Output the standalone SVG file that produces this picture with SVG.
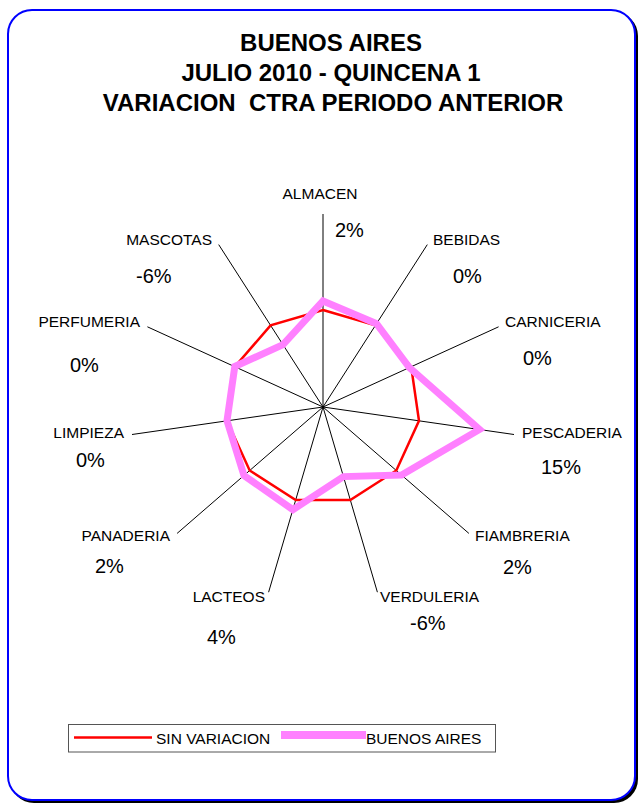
<svg xmlns="http://www.w3.org/2000/svg" width="642" height="805" viewBox="0 0 642 805">
<style>
.t{font-family:"Liberation Sans",Arial,sans-serif;font-weight:bold;font-size:24px;fill:#000;text-anchor:middle;white-space:pre}
.lb{font-family:"Liberation Sans",Arial,sans-serif;font-size:15.5px;fill:#000}
.pc{font-family:"Liberation Sans",Arial,sans-serif;font-size:20px;fill:#000}
.ax{stroke:#000;stroke-width:1;fill:none}
</style>
<rect x="10" y="12" width="628" height="791" rx="24" fill="#000"/>
<rect x="8" y="10" width="627" height="790" rx="24" fill="#fff" stroke="#0000ff" stroke-width="2"/>
<g id="title">
<text class="t" x="331" y="51">BUENOS AIRES</text>
<text class="t" x="331" y="81">JULIO 2010 - QUINCENA 1</text>
<text class="t" x="333" y="111" xml:space="preserve">VARIACION  CTRA PERIODO ANTERIOR</text>
</g>
<g id="axes" class="ax">
<line x1="323" y1="407" x2="323" y2="214"/>
<line x1="323" y1="407" x2="427.3" y2="244.6"/>
<line x1="323" y1="407" x2="498.6" y2="326.8"/>
<line x1="323" y1="407" x2="514" y2="434.5"/>
<line x1="323" y1="407" x2="468.9" y2="533.4"/>
<line x1="323" y1="407" x2="377.4" y2="592.2"/>
<line x1="323" y1="407" x2="268.6" y2="592.2"/>
<line x1="323" y1="407" x2="177.1" y2="533.4"/>
<line x1="323" y1="407" x2="132" y2="434.5"/>
<line x1="323" y1="407" x2="147.4" y2="326.8"/>
<line x1="323" y1="407" x2="218.7" y2="244.6"/>
</g>
<g id="series-sin-variacion">
<polygon points="323,310 375.4,325.4 411.2,366.7 419,420.8 396.3,470.5 350.3,500.1 295.7,500.1 249.7,470.5 227,420.8 234.8,366.7 270.6,325.4" fill="none" stroke="#ff0000" stroke-width="2.5"/>
</g>
<g id="series-buenos-aires">
<polygon points="323,301 376.5,323.7 409.4,367.5 479.5,429.5 401.6,475.1 343.4,476.6 292.9,509.7 244,475.5 227,420.8 234.8,366.5 283,344.7" fill="none" stroke="#ff80ff" stroke-width="7" stroke-linejoin="miter"/>
</g>
<g id="labels">
<g id="almacen"><text class="lb" x="320" y="199" text-anchor="middle">ALMACEN</text><text class="pc" x="335" y="237">2%</text></g>
<g id="bebidas"><text class="lb" x="433" y="245">BEBIDAS</text><text class="pc" x="453" y="283">0%</text></g>
<g id="carniceria"><text class="lb" x="505" y="327">CARNICERIA</text><text class="pc" x="523" y="365">0%</text></g>
<g id="pescaderia"><text class="lb" x="522" y="438">PESCADERIA</text><text class="pc" x="541" y="474">15%</text></g>
<g id="fiambreria"><text class="lb" x="475" y="541">FIAMBRERIA</text><text class="pc" x="503" y="574">2%</text></g>
<g id="verduleria"><text class="lb" x="380" y="602">VERDULERIA</text><text class="pc" x="410" y="630">-6%</text></g>
<g id="lacteos"><text class="lb" x="265" y="602" text-anchor="end">LACTEOS</text><text class="pc" x="207" y="644">4%</text></g>
<g id="panaderia"><text class="lb" x="170" y="541" text-anchor="end">PANADERIA</text><text class="pc" x="95" y="573">2%</text></g>
<g id="limpieza"><text class="lb" x="124" y="438" text-anchor="end">LIMPIEZA</text><text class="pc" x="76" y="467">0%</text></g>
<g id="perfumeria"><text class="lb" x="140" y="327" text-anchor="end">PERFUMERIA</text><text class="pc" x="70" y="372">0%</text></g>
<g id="mascotas"><text class="lb" x="212" y="245" text-anchor="end">MASCOTAS</text><text class="pc" x="136" y="283">-6%</text></g>
</g>
<g id="legend">
<rect x="68.5" y="724.5" width="427" height="27.5" fill="#fff" stroke="#555" stroke-width="1"/>
<line x1="74" y1="737.5" x2="152" y2="737.5" stroke="#ff0000" stroke-width="2.5"/>
<text class="lb" x="156" y="744">SIN VARIACION</text>
<line x1="281" y1="735" x2="366" y2="735" stroke="#ff80ff" stroke-width="8"/>
<text class="lb" x="366" y="744">BUENOS AIRES</text>
</g>
</svg>
